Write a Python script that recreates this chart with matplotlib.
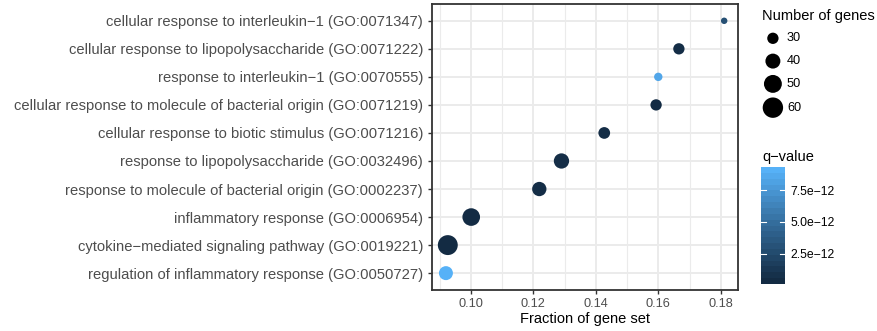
import numpy as np
import matplotlib.pyplot as plt
from matplotlib.colors import LinearSegmentedColormap, Normalize

plt.rcParams['font.family'] = ['Liberation Sans', 'DejaVu Sans']

terms = [
    "cellular response to interleukin\u22121 (GO:0071347)",
    "cellular response to lipopolysaccharide (GO:0071222)",
    "response to interleukin\u22121 (GO:0070555)",
    "cellular response to molecule of bacterial origin (GO:0071219)",
    "cellular response to biotic stimulus (GO:0071216)",
    "response to lipopolysaccharide (GO:0032496)",
    "response to molecule of bacterial origin (GO:0002237)",
    "inflammatory response (GO:0006954)",
    "cytokine\u2212mediated signaling pathway (GO:0019221)",
    "regulation of inflammatory response (GO:0050727)",
]
fraction = [0.1811, 0.1666, 0.1600, 0.1593, 0.1427, 0.1290, 0.1219, 0.1001, 0.0926, 0.0920]
n_genes = [21, 30, 24, 30, 31, 41, 38, 49, 58, 37]
qvalue = [2.8e-12, 3e-13, 8.6e-12, 2e-13, 3e-13, 4e-13, 3e-13, 2e-13, 1.5e-13, 9.3e-12]

size_breaks = [30, 40, 50, 60]
q_breaks = [2.5e-12, 5.0e-12, 7.5e-12]
q_labels = ["2.5e\u221212", "5.0e\u221212", "7.5e\u221212"]

cmap = LinearSegmentedColormap.from_list("gg", ["#132B43", "#336A98", "#56B1F7"])
norm = Normalize(vmin=min(qvalue), vmax=max(qvalue))


def size_of(v):
    # area roughly linear in gene count, like scale_size
    d = np.sqrt(np.maximum(9.6 * np.asarray(v, float) - 160, 4))
    return (0.72 * d) ** 2


fig = plt.figure(figsize=(8.77, 3.31), dpi=100)
ax = fig.add_axes([0.4926, 0.124, 0.349, 0.864])

ypos = np.arange(len(terms))[::-1]
ax.scatter(fraction, ypos, s=size_of(n_genes), c=qvalue, cmap=cmap, norm=norm,
           zorder=3, linewidths=0)

xmin, xmax = min(fraction), max(fraction)
pad = (xmax - xmin) * 0.05
ax.set_xlim(xmin - pad, xmax + pad)
ax.set_ylim(-0.6, len(terms) - 0.4)
ax.set_yticks(ypos)
ax.set_yticklabels(terms, fontsize=10.6, color="#4D4D4D")
ax.set_xticks([0.10, 0.12, 0.14, 0.16, 0.18])
ax.set_xticklabels(["0.10", "0.12", "0.14", "0.16", "0.18"], fontsize=9.2, color="#4D4D4D")
ax.set_xticks([0.09, 0.11, 0.13, 0.15, 0.17], minor=True)
ax.tick_params(which="minor", length=0)
ax.tick_params(which="major", length=3, width=1, color="#333333", pad=2.5)
ax.tick_params(axis="y", pad=3.5)
ax.grid(True, which="major", color="#EBEBEB", linewidth=1.4, zorder=0)
ax.grid(True, which="minor", axis="x", color="#EBEBEB", linewidth=0.8, zorder=0)
ax.set_axisbelow(True)
for sp in ax.spines.values():
    sp.set_color("#333333")
    sp.set_linewidth(1.3)
ax.set_xlabel("Fraction of gene set", fontsize=10.5, labelpad=2)

# size legend
fig.text(762 / 877, 1 - 16 / 331, "Number of genes", fontsize=10.5, va="center", ha="left")
lax = fig.add_axes([760 / 877, 1 - 120 / 331, 30 / 877, 95 / 331])
lax.set_xlim(0, 1)
lax.set_ylim(0, 1)
lax.axis("off")
ly = [0.86, 0.62, 0.38, 0.13]
lax.scatter([0.43] * 4, ly, s=size_of(size_breaks), color="black", linewidths=0, clip_on=False)
for yy, b in zip(ly, size_breaks):
    fig.text(787 / 877, (1 - 120 / 331) + yy * 95 / 331, str(b), fontsize=9.2, va="center")

# q-value colour bar
fig.text(762 / 877, 1 - 157 / 331, "q\u2212value", fontsize=10.5, va="center", ha="left")
cax = fig.add_axes([761 / 877, 1 - 284 / 331, 24 / 877, 117 / 331])
grad = np.linspace(norm.vmin, norm.vmax, 20).reshape(-1, 1)
cax.imshow(grad, cmap=cmap, norm=norm, aspect="auto", origin="lower",
           extent=[0, 1, norm.vmin, norm.vmax])
for qb in q_breaks:
    cax.plot([0, 0.2], [qb, qb], color="white", lw=0.8)
    cax.plot([0.8, 1], [qb, qb], color="white", lw=0.8)
cax.set_xlim(0, 1)
cax.set_ylim(norm.vmin, norm.vmax)
cax.set_xticks([])
cax.yaxis.tick_right()
cax.set_yticks(q_breaks)
cax.set_yticklabels(q_labels, fontsize=8.8)
cax.tick_params(axis="y", length=0, pad=4)
for sp in cax.spines.values():
    sp.set_visible(False)

fig.savefig("out.png", dpi=100)
